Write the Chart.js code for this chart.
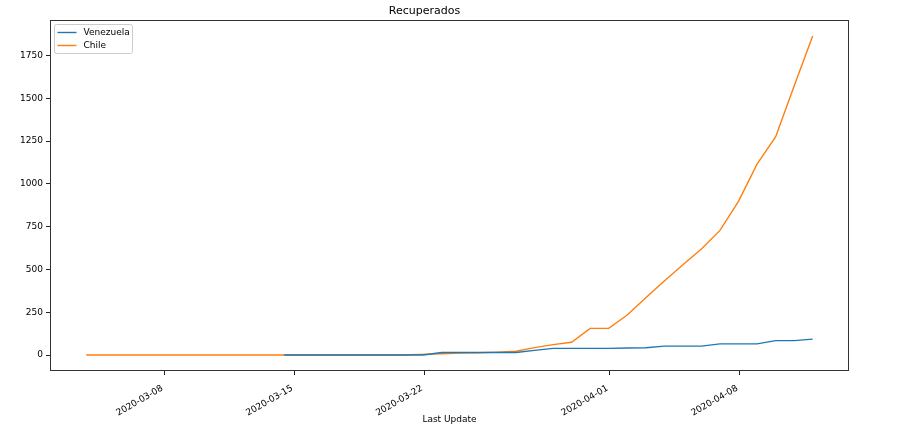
<!DOCTYPE html>
<html>
<head>
<meta charset="utf-8">
<script src="https://cdn.jsdelivr.net/npm/chart.js@4"></script>
<style>
  body { margin: 0; background: #fff; }
  canvas { display: block; }
</style>
</head>
<body>
<canvas id="chart" width="900" height="439"></canvas>
<script>
// Last Update timestamps (UTC) and recovered counts
const chileUpdate = [
  '2020-03-03 19:00','2020-03-04 19:00','2020-03-05 19:00','2020-03-06 19:00','2020-03-07 19:00',
  '2020-03-08 19:00','2020-03-09 19:00','2020-03-10 19:00','2020-03-11 19:00','2020-03-12 19:00',
  '2020-03-13 19:00','2020-03-14 19:00','2020-03-15 19:00','2020-03-16 19:00','2020-03-17 19:00',
  '2020-03-18 19:00','2020-03-19 19:00','2020-03-20 19:00','2020-03-21 19:00',
  '2020-03-22 23:00','2020-03-23 23:00','2020-03-24 23:00','2020-03-25 23:00','2020-03-26 23:00',
  '2020-03-27 23:00','2020-03-28 23:00','2020-03-29 23:00','2020-03-30 23:00','2020-03-31 23:00',
  '2020-04-01 23:00','2020-04-02 23:00','2020-04-03 23:00','2020-04-04 23:00','2020-04-05 23:00',
  '2020-04-06 23:00','2020-04-07 23:00','2020-04-08 23:00','2020-04-09 23:00','2020-04-10 23:00',
  '2020-04-11 23:00'
];
const chileRecovered = [
  0, 0, 0, 0, 0, 0, 0, 0, 0, 0, 0, 0, 0, 0, 0, 0, 0, 0, 4,
  8, 11, 13, 17, 22, 43, 61, 75, 156, 156,
  234, 335, 432, 528, 619, 728, 898, 1115, 1274, 1571, 1864
];

const venezuelaUpdate = [
  '2020-03-14 11:00','2020-03-15 23:00','2020-03-16 23:00','2020-03-17 23:00','2020-03-18 23:00',
  '2020-03-19 23:00','2020-03-20 23:00','2020-03-21 23:00','2020-03-22 23:00','2020-03-23 23:00',
  '2020-03-24 23:00','2020-03-25 23:00','2020-03-26 23:00','2020-03-27 23:00','2020-03-28 23:00',
  '2020-03-29 23:00','2020-03-30 23:00','2020-03-31 23:00','2020-04-01 23:00','2020-04-02 23:00',
  '2020-04-03 23:00','2020-04-04 23:00','2020-04-05 23:00','2020-04-06 23:00','2020-04-07 23:00',
  '2020-04-08 23:00','2020-04-09 23:00','2020-04-10 23:00','2020-04-11 23:00'
];
const venezuelaRecovered = [
  0, 0, 0, 0, 0, 0, 0, 0, 15, 15, 15, 15, 15, 27, 39, 39, 39, 39, 41, 43,
  52, 52, 52, 65, 65, 65, 84, 84, 93
];

const xTickDates = ['2020-03-08', '2020-03-15', '2020-03-22', '2020-04-01', '2020-04-08'];
const yTickStep = 250;

const FONT = 'DejaVu Sans';

function toMs(s) {
  return s.length === 10 ? Date.parse(s + 'T00:00:00Z') : Date.parse(s.replace(' ', 'T') + ':00Z');
}
function toPoints(dates, vals) {
  return dates.map((d, i) => ({ x: toMs(d), y: vals[i] }));
}

// matplotlib style 5% margins
const allX = chileUpdate.concat(venezuelaUpdate).map(toMs);
const allY = chileRecovered.concat(venezuelaRecovered);
const xMinD = Math.min(...allX), xMaxD = Math.max(...allX);
const yMinD = Math.min(...allY), yMaxD = Math.max(...allY);
const xPad = (xMaxD - xMinD) * 0.05, yPad = (yMaxD - yMinD) * 0.05;

// frame + legend drawn like matplotlib
const framePlugin = {
  id: 'frame',
  afterDatasetsDraw(chart) {
    const { ctx, chartArea: a } = chart;
    ctx.save();
    ctx.strokeStyle = '#333';
    ctx.lineWidth = 1;
    ctx.strokeRect(Math.round(a.left) + 0.5, Math.round(a.top) + 0.5,
      Math.round(a.right - a.left) - 1, Math.round(a.bottom - a.top) - 1);

    // legend
    const bx = a.left + 4.5, by = a.top + 4.5, bw = 78, bh = 29;
    ctx.beginPath();
    ctx.roundRect(bx, by, bw, bh, 2);
    ctx.fillStyle = 'rgba(255,255,255,0.8)';
    ctx.fill();
    ctx.strokeStyle = '#cccccc';
    ctx.stroke();
    ctx.font = '9px "' + FONT + '"';
    ctx.textBaseline = 'middle';
    chart.data.datasets.forEach((ds, i) => {
      const ly = by + 8 + i * 13;
      ctx.beginPath();
      ctx.moveTo(bx + 3, ly);
      ctx.lineTo(bx + 22, ly);
      ctx.strokeStyle = ds.borderColor;
      ctx.lineWidth = 1.4;
      ctx.stroke();
      ctx.fillStyle = '#000';
      ctx.fillText(ds.label, bx + 29, ly);
    });
    ctx.restore();
  }
};

new Chart(document.getElementById('chart'), {
  type: 'line',
  data: {
    datasets: [
      {
        label: 'Venezuela',
        data: toPoints(venezuelaUpdate, venezuelaRecovered),
        borderColor: '#1f77b4',
        borderWidth: 1.4,
        pointRadius: 0,
        tension: 0
      },
      {
        label: 'Chile',
        data: toPoints(chileUpdate, chileRecovered),
        borderColor: '#ff7f0e',
        borderWidth: 1.4,
        pointRadius: 0,
        tension: 0
      }
    ]
  },
  options: {
    responsive: false,
    animation: false,
    devicePixelRatio: 1,
    layout: { padding: { left: 0, right: 51, top: 0, bottom: 0 } },
    plugins: {
      legend: { display: false },
      tooltip: { enabled: false },
      title: {
        display: true,
        text: 'Recuperados',
        color: '#000',
        font: { family: FONT, size: 11, weight: 'normal' },
        padding: { top: 5, bottom: 1.8 }
      }
    },
    scales: {
      x: {
        type: 'linear',
        min: xMinD - xPad,
        max: xMaxD + xPad,
        afterBuildTicks: scale => {
          scale.ticks = xTickDates.map(d => ({ value: toMs(d) }));
        },
        afterFit: scale => { scale.height = 68; },
        border: { display: false },
        grid: { drawOnChartArea: false, drawTicks: true, tickLength: 4, color: '#222' },
        ticks: {
          autoSkip: false,
          minRotation: 30,
          maxRotation: 30,
          padding: 8,
          labelOffset: -2,
          color: '#000',
          font: { family: FONT, size: 9 },
          callback: v => new Date(v).toISOString().slice(0, 10)
        },
        title: {
          display: true,
          text: 'Last Update',
          color: '#000',
          font: { family: FONT, size: 9 },
          padding: { top: 0, bottom: 14 }
        }
      },
      y: {
        min: yMinD - yPad,
        max: yMaxD + yPad,
        afterBuildTicks: scale => {
          const t = [];
          for (let v = 0; v <= scale.max; v += yTickStep) t.push({ value: v });
          scale.ticks = t;
        },
        afterFit: scale => { scale.width = 50; },
        border: { display: false },
        grid: { drawOnChartArea: false, drawTicks: true, tickLength: 4, color: '#222' },
        ticks: {
          padding: 3,
          color: '#000',
          font: { family: FONT, size: 9 },
          callback: v => String(v)
        }
      }
    }
  },
  plugins: [framePlugin]
});
</script>
</body>
</html>
